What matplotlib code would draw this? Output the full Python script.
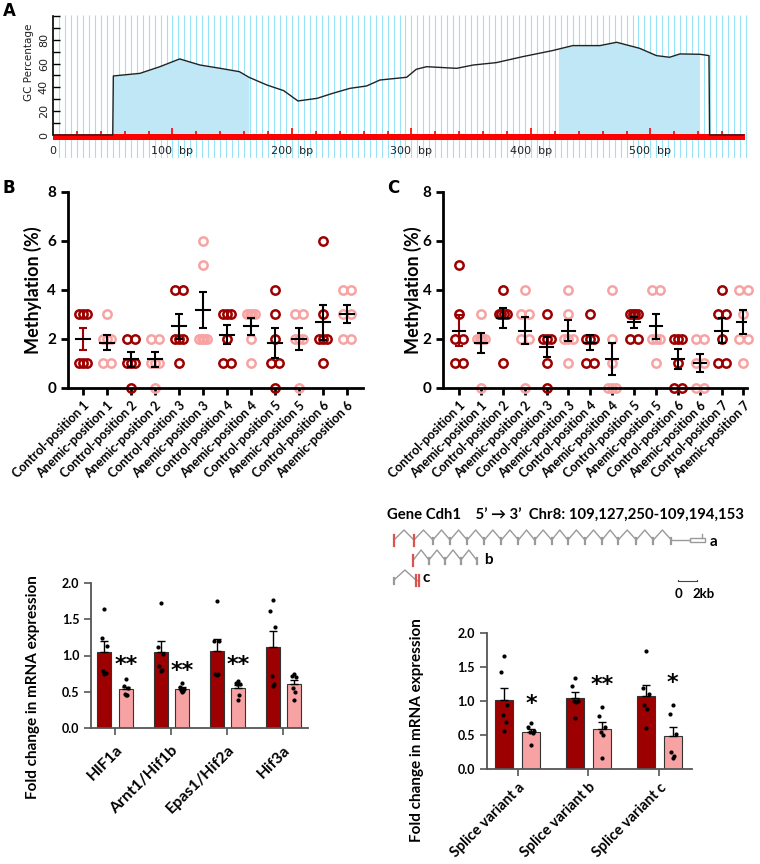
import matplotlib
matplotlib.use('Agg')
import matplotlib.pyplot as plt
import numpy as np

plt.rcParams['font.family'] = ['Lato', 'DejaVu Sans']
plt.rcParams['font.weight'] = 'bold'

W, H = 760, 864
DR = '#9c0000'
PK = '#f7a3a3'

# ---- panel A: GC content along the sequence
seq_len = 579
gc_bp = [0, 50, 50.5, 72.8, 89.5, 106, 123, 140, 156, 164, 179, 193, 205, 221, 234,
         248.5, 262.5, 273.6, 296, 304, 312.7, 337.8, 351.7, 371, 393, 418, 435,
         457.7, 471.7, 491, 505, 516, 524.7, 541.4, 549, 549.5, 578]
gc_pct = [0, 0, 49.6, 51.8, 57.4, 63.9, 58.8, 56, 53.2, 48.5, 42, 37.3, 28.6, 30.8, 35,
          39.2, 41.2, 46.2, 48.5, 55.2, 57.4, 56, 58.8, 60.8, 65.8, 70.9, 75.1,
          75.1, 77.9, 72.8, 66.7, 65.3, 68.1, 67.8, 66.7, 0, 0]
islands = [(50, 164), (423, 541)]

# ---- panels B and C: methylation per position (n = 6)
b_labels = ['Control-position 1', 'Anemic-position 1', 'Control-position 2', 'Anemic-position 2',
            'Control-position 3', 'Anemic-position 3', 'Control-position 4', 'Anemic-position 4',
            'Control-position 5', 'Anemic-position 5', 'Control-position 6', 'Anemic-position 6']
b_values = [[3, 3, 3, 1, 1, 1], [3, 2, 2, 2, 1, 1], [2, 2, 1, 1, 1, 0], [2, 2, 1, 1, 1, 0],
            [4, 4, 2, 2, 2, 1], [6, 5, 2, 2, 2, 2], [3, 3, 3, 2, 1, 1], [3, 3, 3, 3, 2, 1],
            [4, 3, 2, 1, 1, 0], [3, 3, 2, 2, 2, 0], [6, 3, 2, 2, 2, 1], [4, 4, 3, 3, 2, 2]]
c_labels = ['Control-position 1', 'Anemic-position 1', 'Control-position 2', 'Anemic-position 2',
            'Control-position 3', 'Anemic-position 3', 'Control-position 4', 'Anemic-position 4',
            'Control-position 5', 'Anemic-position 5', 'Control-position 6', 'Anemic-position 6',
            'Control-position 7', 'Anemic-position 7']
c_values = [[5, 3, 2, 2, 1, 1], [3, 2, 2, 2, 2, 0], [4, 3, 3, 3, 3, 1], [4, 3, 3, 2, 2, 0],
            [3, 2, 2, 2, 1, 0], [4, 3, 2, 2, 2, 1], [3, 2, 2, 2, 1, 1], [4, 2, 1, 0, 0, 0],
            [3, 3, 3, 3, 2, 2], [4, 4, 2, 2, 2, 1], [2, 2, 2, 1, 0, 0], [2, 2, 1, 1, 0, 0],
            [4, 3, 3, 2, 1, 1], [4, 4, 3, 2, 2, 1]]

# ---- panel D: HIF genes
d_cats = ['HIF1a', 'Arnt1/Hif1b', 'Epas1/Hif2a', 'Hif3a']
d_ctrl = [[1.64, 1.24, 1.13, 0.78, 0.76, 0.75], [1.73, 1.12, 1.02, 0.85, 0.8, 0.78],
          [1.75, 1.2, 1.2, 0.74, 0.74, 0.73], [1.77, 1.62, 1.4, 0.72, 0.6, 0.58]]
d_anem = [[0.68, 0.58, 0.55, 0.47, 0.45, 0.45], [0.62, 0.56, 0.54, 0.52, 0.51, 0.49],
          [0.64, 0.62, 0.6, 0.6, 0.45, 0.39], [0.75, 0.72, 0.7, 0.55, 0.5, 0.38]]
d_stars = ['**', '**', '**', '']
d_star_y = [0.87, 0.79, 0.87, 0]

# ---- panel E: Cdh1 splice variants
e_cats = ['Splice variant a', 'Splice variant b', 'Splice variant c']
e_ctrl = [[1.66, 1.43, 0.95, 0.8, 0.7, 0.57], [1.34, 1.22, 1.0, 1.0, 0.99, 0.75],
          [1.74, 1.2, 1.1, 0.95, 0.88, 0.6]]
e_anem = [[0.68, 0.62, 0.56, 0.55, 0.53, 0.36], [0.92, 0.78, 0.62, 0.55, 0.5, 0.17],
          [0.95, 0.82, 0.52, 0.25, 0.2, 0.16]]
e_stars = ['*', '**', '*']
e_star_y = [0.96, 1.24, 1.27]

# ---- gene model (kb from first exon)
exons_a = [0, 2.1, 4.1, 5.9, 7.7, 9.5, 11.3, 13.1, 14.8, 16.6, 18.3, 20.1, 21.9, 23.6,
           25.5, 27.3, 29.2, 31.2]
exons_b = [2.03, 3.68, 5.37, 7.05, 8.7]
exons_c = [0, 2.3, 2.6]
red_a = [0, 1]
red_b = [0]
red_c = [1, 2]
utr_a = (31.2, 32.7)


def box(l, t, r, b):
    return [l / W, 1 - b / H, (r - l) / W, (b - t) / H]


fig = plt.figure(figsize=(W / 100, H / 100), dpi=100)

# ================= A
axA = fig.add_axes(box(53, 15, 752, 158))
axA.set_xlim(0, 585)
axA.set_ylim(-19.3, 100.8)
axA.vlines(np.arange(5, 585, 5), -19.3, 100.8, color='#98e4f6', lw=0.8, zorder=0)
for a, b in islands:
    sel = [(x, y) for x, y in zip(gc_bp, gc_pct) if a <= x <= b]
    xs = [a] + [p[0] for p in sel] + [b]
    ys = [np.interp(a, gc_bp, gc_pct)] + [p[1] for p in sel] + [np.interp(b, gc_bp, gc_pct)]
    axA.fill_between(xs, 0, ys, color='#bfe7f6', lw=0, zorder=1)
axA.fill_between([0, seq_len], -3.8, 1.2, color='#ff0000', lw=0, zorder=2)
rt = np.arange(20, seq_len, 20)
axA.vlines(rt, 1.2, np.where(rt % 100 == 0, 5.5, 3.5), color='#ff0000', lw=1.2, zorder=2)
axA.plot(gc_bp, gc_pct, color='#222222', lw=1.0, zorder=4)
for s in ['top', 'right', 'bottom']:
    axA.spines[s].set_visible(False)
axA.spines['left'].set_bounds(0, 100)
axA.spines['left'].set_linewidth(1.2)
axA.set_xticks(np.arange(0, 501, 100))
axA.set_xticklabels(['0'] + ['%d  bp' % v for v in range(100, 501, 100)],
                    family='DejaVu Sans', fontsize=8, fontweight='normal', color='#222')
axA.tick_params(axis='x', length=0, pad=-9)
axA.set_yticks(np.arange(0, 101, 10))
axA.set_yticklabels([str(v) if v % 20 == 0 and v <= 80 else '' for v in range(0, 101, 10)],
                    family='DejaVu Sans', fontsize=8, fontweight='normal', color='#222',
                    rotation=90, va='center')
axA.tick_params(axis='y', direction='in', length=5, width=1, pad=3)
fig.text(29 / W, 1 - 62 / H, 'GC Percentage', rotation=90, ha='center', va='center',
         family='DejaVu Sans', fontsize=7.5, fontweight='normal', color='#222')


# ================= B, C
def methyl_panel(ax, labels, values, spread, half):
    for i, vals in enumerate(values):
        col = DR if i % 2 == 0 else PK
        vals = np.array(vals, float)
        xs = np.zeros(len(vals))
        for v in np.unique(vals):
            idx = np.where(vals == v)[0]
            if len(idx) > 1:
                xs[idx] = np.linspace(-spread / 2, spread / 2, len(idx))
        ax.plot(i + xs, vals, 'o', mfc='none', mec=col, ms=6, mew=1.8, zorder=2, clip_on=False)
        m = vals.mean()
        se = vals.std(ddof=1) / np.sqrt(len(vals))
        ecol = DR if i == 0 else 'black'
        ax.errorbar(i, m, yerr=se, color=ecol, capsize=3, lw=1.5, capthick=1.5, zorder=3)
        ax.plot([i - half, i + half], [m, m], color='black', lw=1.5, zorder=4)
    ax.set_ylim(0, 8)
    ax.set_yticks([0, 2, 4, 6, 8])
    ax.set_xticks(range(len(labels)))
    ax.set_xticklabels(labels, rotation=45, ha='right', va='top', rotation_mode='anchor',
                       fontsize=9, fontweight='bold')
    for lab in ax.get_yticklabels():
        lab.set_fontsize(11)
        lab.set_fontweight('bold')
    ax.tick_params(width=2, length=5)
    for s in ['top', 'right']:
        ax.spines[s].set_visible(False)
    for s in ['left', 'bottom']:
        ax.spines[s].set_linewidth(2)


axB = fig.add_axes(box(68, 191.7, 363, 387.7))
axB.set_xlim(-0.63, 11.67)
methyl_panel(axB, b_labels, b_values, 0.33, 0.3)
fig.text(33 / W, 1 - 290 / H, 'Methylation (%)', rotation=90, ha='center', va='center',
         fontsize=13, fontweight='bold')

axC = fig.add_axes(box(443.3, 191.7, 747, 387.7))
axC.set_xlim(-0.72, 13.16)
methyl_panel(axC, c_labels, c_values, 0.37, 0.28)
fig.text(413 / W, 1 - 290 / H, 'Methylation (%)', rotation=90, ha='center', va='center',
         fontsize=13, fontweight='bold')


# ================= D, E
def bar_panel(ax, cats, ctrl, anem, stars, star_y, width, off, lab_size, lab_pad):
    jit = np.array([0, -0.04, 0.04, -0.02, 0.02, 0.0])
    for i in range(len(cats)):
        for vals, col, dx in [(ctrl[i], DR, -off), (anem[i], PK, off)]:
            vals = np.array(vals)
            m = vals.mean()
            se = vals.std(ddof=1) / np.sqrt(len(vals))
            ax.bar(i + dx, m, width, color=col, edgecolor='#333333', lw=0.8, zorder=1)
            ax.errorbar(i + dx, m, yerr=[[0], [se]], color='black', capsize=3, lw=1,
                        capthick=1, zorder=2)
            ax.plot(i + dx + jit, vals, 'o', color='black', ms=2, zorder=3)
        if stars[i]:
            ax.text(i + off, star_y[i], stars[i], ha='center', va='center',
                    family='DejaVu Sans', fontsize=16, fontweight='bold')
    ax.set_ylim(0, 2)
    ax.set_yticks([0, 0.5, 1.0, 1.5, 2.0])
    ax.set_yticklabels(['0.0', '0.5', '1.0', '1.5', '2.0'], fontsize=9, fontweight='bold')
    ax.set_xticks(range(len(cats)))
    ax.set_xticklabels(cats, rotation=45, ha='right', va='top', rotation_mode='anchor',
                       fontsize=lab_size, fontweight='bold')
    ax.tick_params(width=1.2, length=5, color='#555')
    ax.tick_params(axis='x', pad=lab_pad)
    for s in ['top', 'right']:
        ax.spines[s].set_visible(False)
    for s in ['left', 'bottom']:
        ax.spines[s].set_linewidth(1.3)
        ax.spines[s].set_color('#555')


axD = fig.add_axes(box(91, 583.3, 308, 727.7))
axD.set_xlim(-0.43, 3.44)
bar_panel(axD, d_cats, d_ctrl, d_anem, d_stars, d_star_y, 0.25, 0.19, 11.5, 6)
fig.text(33 / W, 1 - 687 / H, 'Fold change in mRNA expression', rotation=90,
         ha='center', va='center', fontsize=11, fontweight='bold')

axE = fig.add_axes(box(486.7, 633.3, 691.7, 769.3))
axE.set_xlim(-0.438, 2.458)
bar_panel(axE, e_cats, e_ctrl, e_anem, e_stars, e_star_y, 0.254, 0.19, 10.5, 3)
fig.text(416.7 / W, 1 - 730 / H, 'Fold change in mRNA expression', rotation=90,
         ha='center', va='center', fontsize=11, fontweight='bold')

# ================= gene model
axG = fig.add_axes(box(380, 500, 760, 610))
axG.set_xlim(-14 / 9.5, 366 / 9.5)
axG.set_ylim(110, 0)
axG.axis('off')
GREY = '#9a9a9a'


def transcript(ax, exons, red, base):
    for k in range(len(exons) - 1):
        x0, x1 = exons[k], exons[k + 1]
        if x1 - x0 < 0.6:
            ax.plot([x0, x1], [base, base], color=GREY, lw=1)
        else:
            ax.plot([x0, (x0 + x1) / 2, x1], [base, base - 10, base], color=GREY, lw=1)
    for k, x in enumerate(exons):
        if k in red:
            ax.plot([x, x], [base - 5, base + 6], color='#d9534f', lw=1.6)
        else:
            ax.plot([x, x], [base - 2, base + 4], color=GREY, lw=1.6)


transcript(axG, exons_a[:-1], red_a, 40)
axG.plot([exons_a[-2], utr_a[0]], [40, 40], color=GREY, lw=1)
axG.add_patch(plt.Rectangle((utr_a[0], 38), utr_a[1] - utr_a[0], 4, fill=False,
                            edgecolor=GREY, lw=1))
axG.plot([utr_a[1] - 0.3, utr_a[1] - 0.3], [34, 38], color=GREY, lw=1)
transcript(axG, exons_b, red_b, 60)
transcript(axG, exons_c, red_c, 80)
axG.text(33.6, 41.7, 'a', ha='center', va='center', fontsize=11, fontweight='bold')
axG.text(9.9, 60, 'b', ha='center', va='center', fontsize=11, fontweight='bold')
axG.text(3.44, 78.3, 'c', ha='center', va='center', fontsize=11, fontweight='bold')
axG.text(-0.74, 16, 'Gene Cdh1    5\u2019 \u2192 3\u2019  Chr8: 109,127,250-109,194,153',
         ha='left', va='center', fontsize=10.7, fontweight='bold', family=['Lato', 'DejaVu Sans'])
axG.plot([29.9, 31.9], [80.7, 80.7], color='#444', lw=0.8)
axG.plot([29.9, 29.9], [79.5, 80.7], color='#444', lw=0.8)
axG.plot([31.9, 31.9], [79.5, 80.7], color='#444', lw=0.8)
axG.text(29.9, 94, '0', ha='center', va='center', fontsize=9.5, fontweight='bold')
axG.text(32.6, 94, '2kb', ha='center', va='center', fontsize=9.5, fontweight='bold')

# panel letters
fig.text(3 / W, 1 - 11 / H, 'A', fontsize=12, fontweight='bold', family='DejaVu Sans', va='center')
fig.text(2 / W, 1 - 188 / H, 'B', fontsize=12, fontweight='bold', family='DejaVu Sans', va='center')
fig.text(387 / W, 1 - 188 / H, 'C', fontsize=12, fontweight='bold', family='DejaVu Sans', va='center')

fig.savefig('out.png', dpi=100)
